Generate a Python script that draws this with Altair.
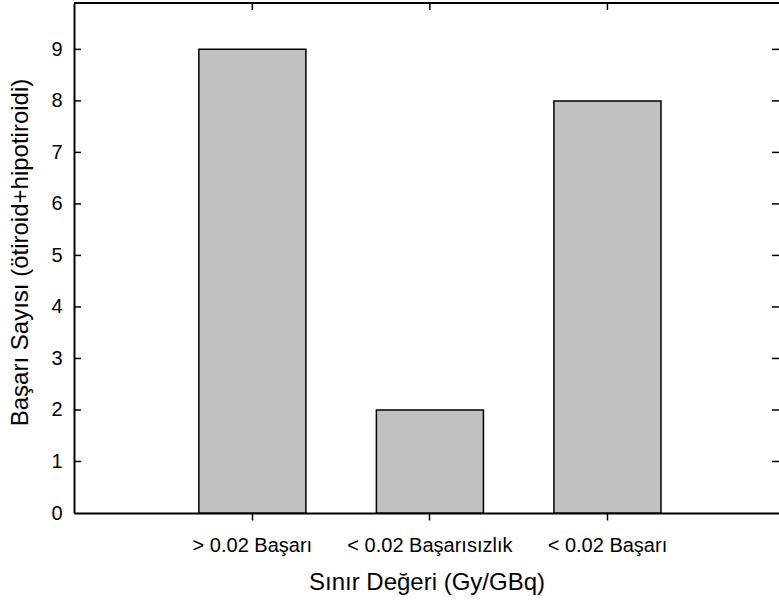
import altair as alt
import pandas as pd

categories = ["> 0.02 Başarı", "< 0.02 Başarısızlık", "< 0.02 Başarı"]
counts = [9, 2, 8]
y_tick_values = [0, 1, 2, 3, 4, 5, 6, 7, 8, 9]
inner_ticks = [1, 2, 3, 4, 5, 6, 7, 8, 9]

df = pd.DataFrame({"cat": categories, "n": counts})
ticks_df = pd.DataFrame({"v": inner_ticks})

FONT = "Liberation Sans"
W, H = 705, 510

xscale = alt.Scale(domain=categories, paddingInner=0.397, paddingOuter=0.684, align=0.514)
yscale = alt.Scale(domain=[0, 9.9], nice=False, zero=True)

x_axis = alt.Axis(
    title="Sınır Değeri (Gy/GBq)", labelAngle=0, labelFontSize=20, titleFontSize=24,
    labelFont=FONT, titleFont=FONT, labelColor="black", titleColor="black",
    titleFontWeight="normal", domainColor="black", domainWidth=2, tickColor="black",
    tickWidth=1.5, tickSize=7, labelPadding=15, titlePadding=15, grid=False,
)
y_axis = alt.Axis(
    title="Başarı Sayısı (ötiroid+hipotiroidi)", values=y_tick_values, labelFontSize=20,
    titleFontSize=24, labelFont=FONT, titleFont=FONT, labelColor="black",
    titleColor="black", titleFontWeight="normal", domainColor="black", domainWidth=2,
    ticks=False, labelPadding=12, titlePadding=18, titleY=249, grid=False,
)

bars = alt.Chart(df).mark_bar(fill="#c0c0c0", stroke="black", strokeWidth=1.5).encode(
    x=alt.X("cat:N", scale=xscale, sort=categories, axis=x_axis),
    y=alt.Y("n:Q", scale=yscale, axis=y_axis),
)

left_ticks = alt.Chart(ticks_df).mark_rule(color="black", strokeWidth=1.5).encode(
    x=alt.value(0), x2=alt.value(7),
    y=alt.Y("v:Q", scale=yscale, axis=y_axis),
)
right_ticks = alt.Chart(ticks_df).mark_rule(color="black", strokeWidth=1.5).encode(
    x=alt.value(W - 7), x2=alt.value(W),
    y=alt.Y("v:Q", scale=yscale, axis=y_axis),
)
top_ticks = alt.Chart(df).mark_rule(color="black", strokeWidth=1.5).encode(
    x=alt.X("cat:N", scale=xscale, sort=categories, axis=x_axis),
    y=alt.value(0), y2=alt.value(7),
)
top_line = alt.Chart(df).mark_rule(color="black", strokeWidth=2).encode(
    x=alt.value(0), x2=alt.value(W), y=alt.value(0),
)

chart = alt.layer(bars, left_ticks, right_ticks, top_ticks, top_line).properties(
    width=W, height=H,
    autosize=alt.AutoSizeParams(type="none"),
    padding={"left": 74, "top": 3, "right": 0, "bottom": 92},
    background="white",
).configure_view(stroke=None)

chart.save("out.html", embed_options={"renderer": "svg", "actions": False})
